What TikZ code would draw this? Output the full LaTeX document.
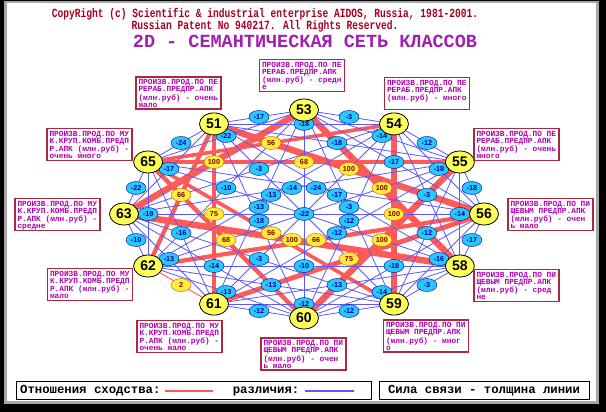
\documentclass[tikz,border=0pt]{standalone}
\usepackage{fontspec}
\setmainfont{Liberation Sans}
\newfontfamily\dosfont{Liberation Mono}
\usetikzlibrary{positioning,shapes.geometric}

\definecolor{hdrred}{RGB}{168,0,32}
\definecolor{ttlpurple}{RGB}{160,32,176}
\definecolor{boxred}{RGB}{170,40,64}
\definecolor{desctxt}{RGB}{176,0,176}
\definecolor{simred}{RGB}{255,90,90}
\definecolor{difblue}{RGB}{90,90,255}
\definecolor{tagcyan}{RGB}{40,200,255}
\definecolor{tagblue}{RGB}{0,0,150}
\definecolor{tagyellow}{RGB}{255,235,60}
\definecolor{tagbrown}{RGB}{190,90,0}
\definecolor{tagdark}{RGB}{128,0,0}
\definecolor{clsyellow}{RGB}{255,255,90}

\pgfdeclarelayer{frame}
\pgfdeclarelayer{redlinks}
\pgfdeclarelayer{bluelinks}
\pgfdeclarelayer{tags}
\pgfsetlayers{frame,redlinks,bluelinks,tags,main}

\newcommand\desc[1]{\parbox[c][27pt][t]{80pt}{\raggedright #1}}
\newcommand\tall[1]{\scalebox{1}[1.3]{#1}}

\begin{document}
\begin{tikzpicture}[x=1pt, y=1pt,
  cls/.style={ellipse, draw=black, thick, fill=clsyellow, minimum width=29pt, minimum height=22pt, inner sep=0pt, font=\bfseries\fontsize{14}{14}\selectfont},
  negtag/.style={ellipse, draw=tagblue, fill=tagcyan, text=tagblue, minimum width=20pt, minimum height=13pt, inner sep=0.5pt, font=\bfseries\fontsize{7.2}{7.2}\selectfont},
  postag/.style={ellipse, draw=tagbrown, fill=tagyellow, text=tagdark, minimum width=20pt, minimum height=13pt, inner sep=0.5pt, font=\bfseries\fontsize{7.2}{7.2}\selectfont},
  diflink/.style={draw=difblue, line width=0.8pt},
  simlink/.style={draw=simred},
  descbox/.style={draw=boxred, line width=1.1pt, text=desctxt, inner sep=2.5pt, font=\dosfont\bfseries\fontsize{7.8}{7.2}\selectfont},
  hdr/.style={text=hdrred, inner sep=0pt, font=\dosfont\bfseries\fontsize{9.6}{10}\selectfont},
  legtext/.style={inner sep=0pt, font=\dosfont\bfseries\fontsize{12.3}{12.3}\selectfont},
  legbox/.style={draw=black, line width=1pt, minimum height=18pt, inner sep=0pt}]

  \begin{pgfonlayer}{frame}
    \fill[black] (0,0) rectangle (606,412);
    \fill[gray!70] (4,8) rectangle (599,411);
    \fill[white] (7,11) rectangle (596,409);
  \end{pgfonlayer}

  \node[hdr] (copy) at (265,398) {\tall{CopyRight (c) Scientific \& industrial enterprise AIDOS, Russia, 1981-2001.}};
  \node[hdr] (patent) at (265,386) {\tall{Russian Patent No 940217. All Rights Reserved.}};
  \node[inner sep=0pt, text=ttlpurple, font=\dosfont\bfseries\fontsize{18.5}{20}\selectfont] (title) at (305,371) {2D - СЕМАНТИЧЕСКАЯ СЕТЬ КЛАССОВ};

  \foreach \n/\ang in {53/90,54/60,55/30,56/0,58/-30,59/-60,60/-90,61/-120,62/-150,63/180,65/150,51/120}
    \node[cls] (c\n) at ({304+180*cos(\ang)},{198+104*sin(\ang)}) {\n};

  \foreach \a/\b/\v in {53/54/-3, 54/55/-12, 55/56/-18, 56/58/-17, 58/59/-3, 59/60/-12,
      60/61/-12, 61/62/2, 62/63/-10, 63/65/-22, 65/51/-24, 51/53/-17,
      53/55/-14, 54/56/-18, 55/58/-14, 56/59/-16, 58/60/-14, 59/61/-12,
      60/62/-13, 61/63/-13, 62/65/-19, 63/51/-17, 65/53/-22, 51/54/-18,
      53/56/-17, 54/58/-3, 55/59/-12, 56/60/-18, 58/61/-13, 59/62/-13,
      60/63/-14, 61/65/-16, 62/51/66, 63/53/100, 65/54/56, 51/55/-18,
      53/58/100, 54/59/100, 55/60/100, 56/61/75, 58/62/-10, 59/63/-3,
      60/65/68, 61/51/75, 62/53/-10, 63/54/-3, 65/55/68, 51/56/100,
      53/59/-3, 54/60/-12, 55/61/-12, 56/62/66, 58/63/100, 59/65/56,
      60/51/-18, 61/53/-13, 62/54/-13, 63/55/-14, 65/56/-24, 51/58/-17,
      59/51/-22}{
    \ifnum\v<0
      \begin{pgfonlayer}{bluelinks}\draw[diflink] (c\a.center) -- (c\b.center);\end{pgfonlayer}
      \begin{pgfonlayer}{tags}\path (c\a.center) -- node[negtag] {\v} (c\b.center);\end{pgfonlayer}
    \else
      \pgfmathsetmacro\lw{max(0.9,0.065*\v)}
      \begin{pgfonlayer}{redlinks}\draw[simlink, line width=\lw pt] (c\a.center) -- (c\b.center);\end{pgfonlayer}
      \begin{pgfonlayer}{tags}\path (c\a.center) -- node[postag] {\v} (c\b.center);\end{pgfonlayer}
    \fi
  }
  \foreach \a/\b in {53/60, 54/61, 55/62, 56/63, 58/65}{
    \begin{pgfonlayer}{bluelinks}\draw[diflink] (c\a.center) -- (c\b.center);\end{pgfonlayer}
  }

  \node[descbox] (d51) at (178.5,319) {\desc{ПРОИЗВ.ПРОД.ПО ПЕ\\РЕРАБ.ПРЕДПР.АПК\\(млн.руб) - очень\\мало}};
  \node[descbox] (d53) at (302,336.5) {\desc{ПРОИЗВ.ПРОД.ПО ПЕ\\РЕРАБ.ПРЕДПР.АПК\\(млн.руб) - средн\\е}};
  \node[descbox] (d54) at (427,318.5) {\desc{ПРОИЗВ.ПРОД.ПО ПЕ\\РЕРАБ.ПРЕДПР.АПК\\(млн.руб) - много}};
  \node[descbox] (d55) at (516.5,267.5) {\desc{ПРОИЗВ.ПРОД.ПО ПЕ\\РЕРАБ.ПРЕДПР.АПК\\(млн.руб) - очень\\много}};
  \node[descbox] (d56) at (550.5,197.5) {\desc{ПРОИЗВ.ПРОД.ПО ПИ\\ЩЕВЫМ ПРЕДПР.АПК\\(млн.руб) - очен\\ь мало}};
  \node[descbox] (d58) at (516.5,126.5) {\desc{ПРОИЗВ.ПРОД.ПО ПИ\\ЩЕВЫМ ПРЕДПР.АПК\\(млн.руб) - сред\\не}};
  \node[descbox] (d59) at (426,76) {\desc{ПРОИЗВ.ПРОД.ПО ПИ\\ЩЕВЫМ ПРЕДПР.АПК\\(млн.руб) - мног\\о}};
  \node[descbox] (d60) at (303.5,58) {\desc{ПРОИЗВ.ПРОД.ПО ПИ\\ЩЕВЫМ ПРЕДПР.АПК\\(млн.руб) - очен\\ь мало}};
  \node[descbox] (d61) at (179.5,75.5) {\desc{ПРОИЗВ.ПРОД.ПО МУ\\К.КРУП.КОМБ.ПРЕДП\\Р.АПК (млн.руб) -\\очень мало}};
  \node[descbox] (d62) at (90,127.5) {\desc{ПРОИЗВ.ПРОД.ПО МУ\\К.КРУП.КОМБ.ПРЕДП\\Р.АПК (млн.руб) -\\мало}};
  \node[descbox] (d63) at (57.5,197.5) {\desc{ПРОИЗВ.ПРОД.ПО МУ\\К.КРУП.КОМБ.ПРЕДП\\Р.АПК (млн.руб) -\\средне}};
  \node[descbox] (d65) at (89.5,267.5) {\desc{ПРОИЗВ.ПРОД.ПО МУ\\К.КРУП.КОМБ.ПРЕДП\\Р.АПК (млн.руб) -\\очень много}};

  \node[legbox, minimum width=355pt] (legsim) at (193.5,21) {};
  \node[legtext, anchor=west] (simtxt) at (20,21) {Отношения сходства:};
  \coordinate[right=4pt of simtxt] (simA);
  \coordinate[right=48pt of simA] (simB);
  \draw[simred, line width=1.6pt] (simA) -- (simB);
  \node[legtext, right=20pt of simB] (diftxt) {различия:};
  \coordinate[right=6pt of diftxt] (difA);
  \coordinate[right=49pt of difA] (difB);
  \draw[difblue, line width=1.6pt] (difA) -- (difB);
  \node[legbox, legtext, minimum width=210pt, minimum height=18pt] (legpow) at (484,21) {Сила связи - толщина линии};
\end{tikzpicture}
\end{document}
